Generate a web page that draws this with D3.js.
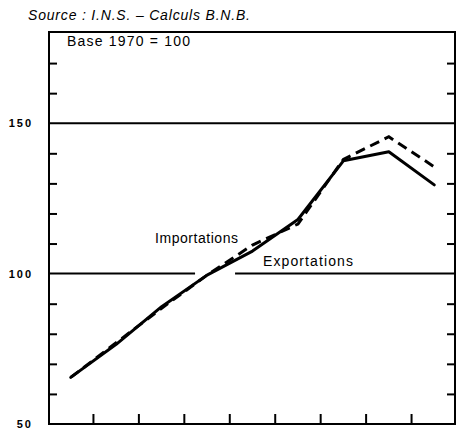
<!DOCTYPE html>
<html>
<head>
<meta charset="utf-8">
<script src="https://cdn.jsdelivr.net/npm/d3@7"></script>
<style>
  body { margin: 0; background: #fff; }
  svg { display: block; font-family: "Liberation Sans", Arial, sans-serif; }
</style>
</head>
<body>
<svg id="chart"></svg>
<script>
const width = 457;
const height = 431;

// data (base 1970 = 100)
const years = [1967, 1968, 1969, 1970, 1971, 1972, 1973, 1974, 1975];
const importations = [65.5, 76.5, 89, 99.5, 107.5, 118, 137.5, 140.5, 129.5];
const exportations = [65.5, 77, 88.5, 99.5, 109.5, 116.5, 138, 145.5, 135.5];
const yLabels = [50, 100, 150];
const yMinor = [60, 70, 80, 90, 110, 120, 130, 140, 160, 170];

const frameLeft = 49, frameRight = 455, frameTop = 32, frameBottom = 424;

const svg = d3.select("#chart")
              .attr("width", width)
              .attr("height", height);

const xScale = d3.scaleBand()
                 .domain(years)
                 .range([48, 457]);
const yScale = d3.scaleLinear()
                 .domain([50, 180])
                 .range([frameBottom, frameTop + 1]);

// source line
svg.append("text")
   .attr("x", 28)
   .attr("y", 20)
   .attr("font-size", 14)
   .attr("font-style", "italic")
   .attr("textLength", 222)
   .text("Source : I.N.S. \u2013 Calculs B.N.B.");

// frame
svg.append("rect")
   .attr("x", frameLeft)
   .attr("y", frameTop)
   .attr("width", frameRight - frameLeft)
   .attr("height", frameBottom - frameTop)
   .attr("fill", "none")
   .attr("stroke", "#000")
   .attr("stroke-width", 2);

// left / right inward ticks
const yAxisL = d3.axisLeft(yScale).tickValues(yMinor).tickSize(-8).tickFormat("");
const yAxisR = d3.axisRight(yScale).tickValues(yMinor).tickSize(-8).tickFormat("");
svg.append("g").attr("transform", `translate(${frameLeft}, 0)`).call(yAxisL);
svg.append("g").attr("transform", `translate(${frameRight}, 0)`).call(yAxisR);

// y labels
const yLab = d3.axisLeft(yScale).tickValues(yLabels).tickSize(0).tickPadding(16);
svg.append("g")
   .attr("transform", `translate(${frameLeft}, 0)`)
   .call(yLab)
   .call(g => g.select(".domain").remove())
   .selectAll("text")
   .attr("font-size", 11)
   .attr("font-weight", "bold")
   .attr("letter-spacing", 2)
   .attr("fill", "#000");

// bottom ticks between years
const xTicks = years.slice(1).map(d => xScale(d));
svg.append("g")
   .selectAll("line")
   .data(xTicks)
   .enter()
   .append("line")
   .attr("x1", d => d)
   .attr("x2", d => d)
   .attr("y1", frameBottom)
   .attr("y2", frameBottom - 10)
   .attr("stroke", "#000")
   .attr("stroke-width", 2);

svg.selectAll(".domain").remove();
svg.selectAll(".tick line").attr("stroke", "#000").attr("stroke-width", 2);

// reference lines
svg.append("line")
   .attr("x1", frameLeft).attr("x2", frameRight)
   .attr("y1", yScale(150)).attr("y2", yScale(150))
   .attr("stroke", "#000").attr("stroke-width", 2);
const x1970 = xScale(1970) + xScale.bandwidth() / 2;
svg.append("line")
   .attr("x1", frameLeft).attr("x2", x1970 - 12)
   .attr("y1", yScale(100)).attr("y2", yScale(100))
   .attr("stroke", "#000").attr("stroke-width", 2);
svg.append("line")
   .attr("x1", x1970 + 28).attr("x2", frameRight)
   .attr("y1", yScale(100)).attr("y2", yScale(100))
   .attr("stroke", "#000").attr("stroke-width", 2);

// series
const line = d3.line()
               .x((d, i) => xScale(years[i]) + xScale.bandwidth() / 2)
               .y(d => yScale(d));

svg.append("path")
   .datum(exportations)
   .attr("d", line)
   .attr("fill", "none")
   .attr("stroke", "#000")
   .attr("stroke-width", 3)
   .attr("stroke-dasharray", "10,6");

svg.append("path")
   .datum(importations)
   .attr("d", line)
   .attr("fill", "none")
   .attr("stroke", "#000")
   .attr("stroke-width", 3)
   .attr("stroke-linejoin", "round")
   .attr("stroke-linecap", "round");

// annotations
svg.append("text")
   .attr("x", 67).attr("y", 46)
   .attr("font-size", 14)
   .attr("textLength", 123)
   .text("Base 1970 = 100");
svg.append("text")
   .attr("x", 155).attr("y", 243)
   .attr("font-size", 14)
   .attr("textLength", 83)
   .text("Importations");
svg.append("text")
   .attr("x", 263).attr("y", 266)
   .attr("font-size", 14)
   .attr("textLength", 90)
   .text("Exportations");
</script>
</body>
</html>
